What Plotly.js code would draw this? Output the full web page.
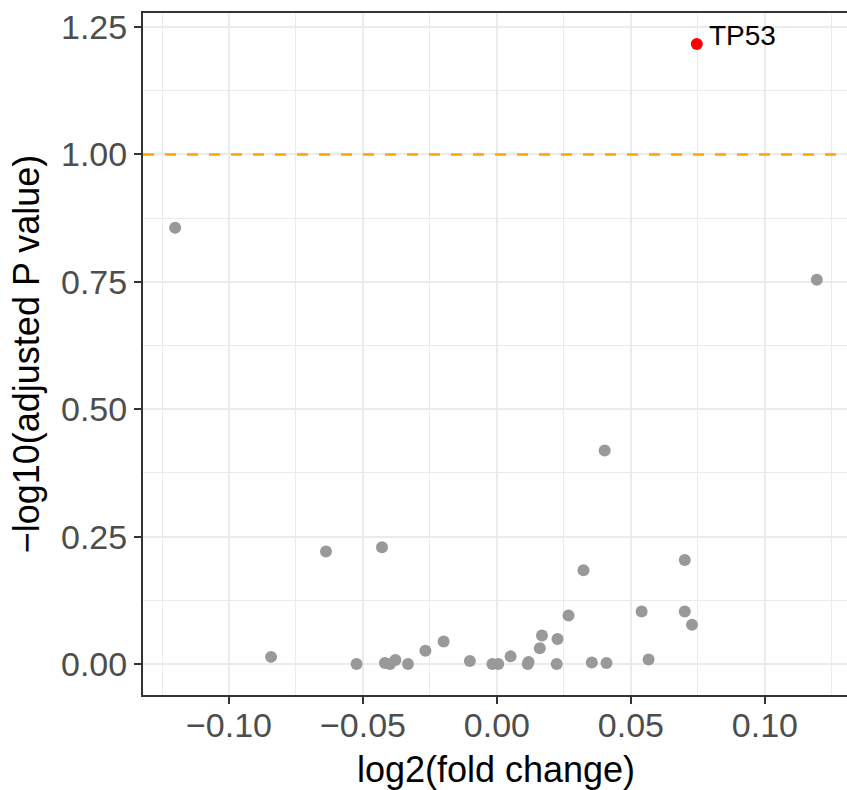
<!DOCTYPE html>
<html>
<head>
<meta charset="utf-8">
<script src="https://cdn.plot.ly/plotly-3.0.1.min.js"></script>
<style>
html,body{margin:0;padding:0;overflow:hidden;background:#fff;}
#chart{width:860px;height:790px;}
</style>
</head>
<body>
<div id="chart"></div>
<script>
// Non-significant genes
const logFC = [-0.1201, 0.1194, -0.0843, -0.0638, -0.0429, -0.0524, -0.0418, -0.0399, -0.0379, -0.0332, -0.0267, -0.0199, -0.0101, -0.0017, 0.0005, 0.0051, 0.0115, 0.0118, 0.0160, 0.0168, 0.0226, 0.0223, 0.0267, 0.0323, 0.0402, 0.0354, 0.0409, 0.0540, 0.0566, 0.0701, 0.0701, 0.0728];
const negLogP = [0.856, 0.754, 0.014, 0.221, 0.229, 0.000, 0.002, 0.000, 0.008, 0.000, 0.026, 0.044, 0.006, 0.000, 0.000, 0.015, 0.000, 0.004, 0.031, 0.056, 0.049, 0.000, 0.095, 0.184, 0.419, 0.003, 0.002, 0.103, 0.009, 0.204, 0.103, 0.077];
// Significant gene
const sigGenes = ["TP53"];
const sigLogFC = [0.0746];
const sigNegLogP = [1.2167];
const threshold = [1.0];
const xTicks = [-0.10, -0.05, 0.00, 0.05, 0.10];
const yTicks = [0.00, 0.25, 0.50, 0.75, 1.00, 1.25];

const font = "Liberation Sans, Arial, Helvetica, sans-serif";

const traces = [
  {x: logFC, y: negLogP, type: "scatter", mode: "markers",
   marker: {color: "#999999", size: 12}, hoverinfo: "x+y"},
  {x: sigLogFC, y: sigNegLogP, type: "scatter", mode: "markers",
   marker: {color: "#FF0000", size: 12}, text: sigGenes}
];

const axisCommon = {
  showline: true, linecolor: "#333333", linewidth: 2, mirror: true,
  ticks: "outside", ticklen: 7, tickwidth: 2, tickcolor: "#333333",
  showgrid: true, gridcolor: "#EBEBEB", gridwidth: 2,
  zeroline: false,
  tickfont: {family: font, size: 34, color: "#4D4D4D"},
  tickformat: ".2f"
};

const layout = {
  width: 860, height: 790,
  margin: {l: 143, r: 11, t: 13, b: 95},
  paper_bgcolor: "#ffffff", plot_bgcolor: "#ffffff",
  showlegend: false,
  xaxis: Object.assign({}, axisCommon, {
    range: [-0.1321, 0.1314],
    tickvals: xTicks,
    ticklabelstandoff: -8,
    minor: {tick0: -0.125, dtick: 0.05, showgrid: true, gridcolor: "#EBEBEB", gridwidth: 1, ticks: ""},
    title: {text: "log2(fold change)", font: {family: font, size: 36, color: "#000000"}, standoff: 16}
  }),
  yaxis: Object.assign({}, axisCommon, {
    range: [-0.0608, 1.2775],
    tickvals: yTicks,
    minor: {tick0: 0.125, dtick: 0.25, showgrid: true, gridcolor: "#EBEBEB", gridwidth: 1, ticks: ""},
    title: {text: "\u2212log10(adjusted P value)", font: {family: font, size: 36, color: "#000000"}, standoff: 10}
  }),
  shapes: threshold.map(t => ({
    type: "line", xref: "paper", yref: "y", x0: 0, x1: 1, y0: t, y1: t,
    line: {color: "#FFA500", width: 2.5, dash: "11px,11px"}
  })),
  annotations: sigGenes.map((g, i) => ({
    x: sigLogFC[i], y: sigNegLogP[i], xref: "x", yref: "y",
    text: g, showarrow: false, xanchor: "left", yanchor: "middle",
    xshift: 10, yshift: 8,
    font: {family: font, size: 28, color: "#000000"}
  }))
};

Plotly.newPlot("chart", traces, layout, {displayModeBar: false, staticPlot: true});
</script>
</body>
</html>
